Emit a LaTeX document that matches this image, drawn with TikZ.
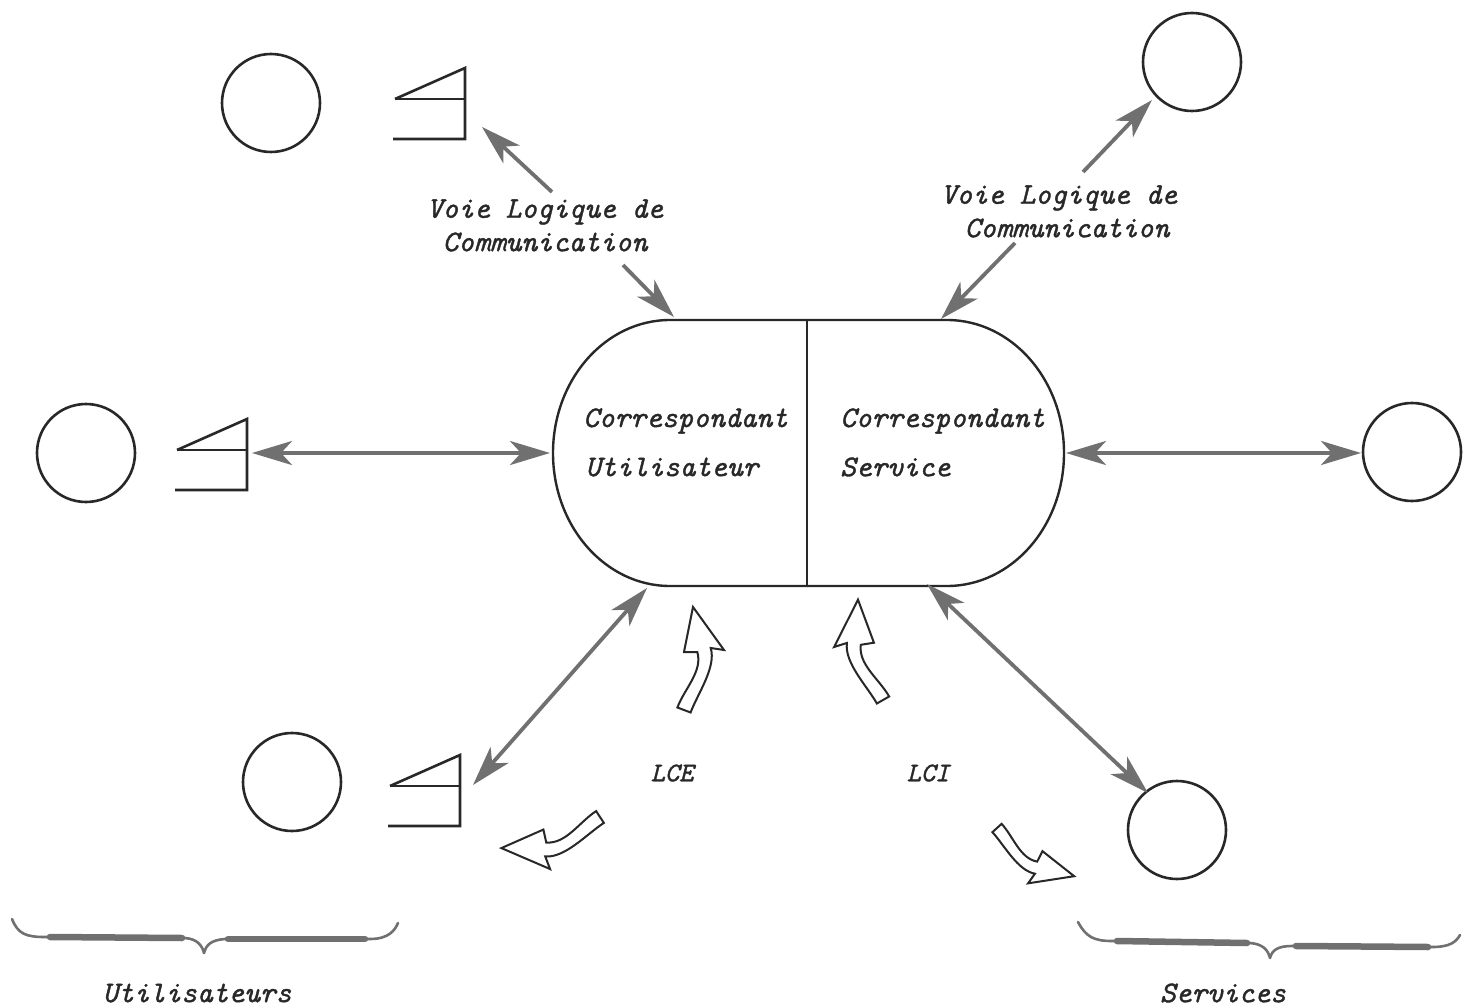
\documentclass[tikz,border=0pt]{standalone}
\usepackage{fontspec}
\usetikzlibrary{arrows.meta}
\newfontfamily\handfont{lmmono10-italic.otf}[FakeBold=1.3]
\definecolor{ink}{RGB}{40,40,40}
\definecolor{wire}{RGB}{112,112,112}
\begin{document}
\begin{tikzpicture}[x=1pt,y=-1pt,
  ring/.style={circle,draw=ink,line width=2.6pt,minimum size=98pt,inner sep=0pt},
  term/.style={draw=ink,line width=2.6pt,line join=miter},
  link/.style={draw=wire,line width=3.8pt,-{Stealth[length=40pt,width=24pt,inset=11pt]}},
  dlink/.style={draw=wire,line width=3.8pt,{Stealth[length=40pt,width=24pt,inset=11pt]}-{Stealth[length=40pt,width=24pt,inset=11pt]}},
  hollow/.style={draw=ink,line width=2pt,fill=white,line join=miter},
  lbl/.style={font=\fontsize{30}{36}\handfont,text=ink,inner sep=0pt},
  small/.style={font=\fontsize{27}{32}\handfont},
  bracestroke/.style={draw=wire,line width=2.6pt,line cap=round,line join=round},
  bracebar/.style={draw=wire,line width=6.5pt,line cap=round},
  termpic/.pic={
    \draw[term] (-70,31) -- (0,0) -- (0,71) -- (-72,71);
    \draw[term] (-70,31) -- (0,31);
  }
]
\useasboundingbox (0,0) rectangle (1464,1008);
\fill[white] (0,0) rectangle (1464,1008);

% curved hollow arrow: tail at the local origin, tip towards local +y (upwards)
\newcommand{\bentarrow}[1]{%
  \begin{scope}[#1]
    \draw[hollow] (-6.6,2.5) .. controls (0.4,21.3) and (19,38.8) .. (13.3,58)
      -- (0,58) -- (9,103) -- (40,60) -- (26.7,62)
      .. controls (32.5,42.8) and (13.6,16.3) .. (6.6,-2.5) -- cycle;
  \end{scope}}

% ---- central correspondent
\draw[ink,line width=2.4pt] (670,320) -- (947,320)
  arc[start angle=-90,end angle=90,x radius=117,y radius=133]
  -- (670,586)
  arc[start angle=90,end angle=270,x radius=117,y radius=133] -- cycle;
\draw[ink,line width=2pt] (807,320) -- (807,586);
\coordinate (capW) at (550,453);
\coordinate (capE) at (1066,453);
\coordinate (capNW) at (674,317);
\coordinate (capNE) at (941,319);
\coordinate (capSW) at (647,588);
\coordinate (capSE) at (927,584);

\node[lbl,anchor=west] (cu1) at (583,421) {Correspondant};
\node[lbl,anchor=west] (cu2) at (585,467) {Utilisateur};
\node[lbl,anchor=west] (cs1) at (840,421) {Correspondant};
\node[lbl,anchor=west] (cs2) at (840,467) {Service};

% ---- users
\node[ring] (u1) at (271,103) {};
\node[ring] (u2) at (86,453) {};
\node[ring] (u3) at (292,782) {};
\pic at (465,68) {termpic};
\pic at (247,419) {termpic};
\pic at (460,755) {termpic};
\coordinate (t1) at (482,127);
\coordinate (t2) at (252,453);
\coordinate (t3) at (473,785);

% ---- services
\node[ring] (s1) at (1192,62) {};
\node[ring] (s2) at (1412,452) {};
\node[ring] (s3) at (1177,830) {};
\coordinate (r1) at (1152,100);
\coordinate (r2) at (1361,453);
\coordinate (r3) at (1148,793);

% ---- logical channel labels
\node[lbl] (v1a) at (545,212) {Voie Logique de};
\node[lbl] (v1b) at (545,242) {Communication};
\node[lbl] (v2a) at (1059,198) {Voie Logique de};
\node[lbl] (v2b) at (1067,228) {Communication};
\coordinate (v1up) at (552,192);
\coordinate (v1dn) at (623,265);
\coordinate (v2up) at (1083,172);
\coordinate (v2dn) at (1015,243);

% ---- connectors
\draw[link] (v1up) -- (t1);
\draw[link] (v1dn) -- (capNW);
\draw[link] (v2up) -- (r1);
\draw[link] (v2dn) -- (capNE);
\draw[dlink] (t2) -- (capW);
\draw[dlink] (capE) -- (r2);
\draw[dlink] (t3) -- (capSW);
\draw[dlink] (capSE) -- (r3);

% ---- LCE / LCI
\node[lbl,small] (lce) at (672,773) {LCE};
\node[lbl,small] (lci) at (928,773) {LCI};
\bentarrow{shift={(684,710)},yscale=-1}
\bentarrow{shift={(883,700)},rotate=9,xscale=-1,yscale=-1}
\bentarrow{shift={(600,817)},rotate=102.5,xscale=-1,yscale=-1}
\bentarrow{shift={(997,828)},rotate=-117,scale=0.88,yscale=-1}

% ---- braces
\draw[bracestroke] (12,919) .. controls (18,934) and (26,937) .. (45,937)
  -- (185,938) .. controls (197,939) and (202,945) .. (204,953)
  .. controls (206,945) and (211,940) .. (225,939)
  -- (370,939) .. controls (389,939) and (395,930) .. (398,923);
\draw[bracebar] (50,937) -- (182,938);
\draw[bracebar] (228,939) -- (365,939);
\draw[bracestroke] (1078,922) .. controls (1086,937) and (1094,941) .. (1112,941)
  -- (1250,943) .. controls (1263,944) and (1268,950) .. (1270,958)
  .. controls (1272,950) and (1278,946) .. (1292,946)
  -- (1432,947) .. controls (1450,947) and (1456,942) .. (1460,935);
\draw[bracebar] (1117,941) -- (1247,943);
\draw[bracebar] (1296,946) -- (1428,947);

\node[lbl] (grpU) at (197,993) {Utilisateurs};
\node[lbl] (grpS) at (1223,993) {Services};
\end{tikzpicture}
\end{document}
